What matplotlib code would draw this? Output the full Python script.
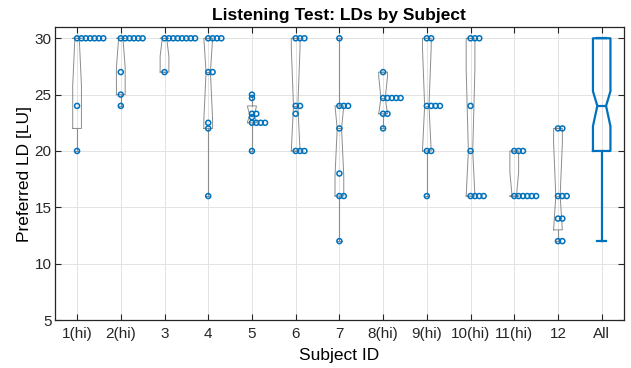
import matplotlib
matplotlib.use("Agg")
import matplotlib.pyplot as plt
from collections import Counter

plt.rcParams['font.family'] = ['Liberation Sans', 'DejaVu Sans']

# ---------------- data ----------------
subject_labels = ['1(hi)', '2(hi)', '3', '4', '5', '6', '7', '8(hi)', '9(hi)',
                  '10(hi)', '11(hi)', '12', 'All']

ratings_s1 = [30, 30, 30, 30, 30, 30, 30, 24, 20]
ratings_s2 = [30, 30, 30, 30, 30, 30, 27, 25, 24]
ratings_s3 = [30, 30, 30, 30, 30, 30, 30, 30, 27]
ratings_s4 = [30, 30, 30, 30, 27, 27, 22.5, 22, 16]
ratings_s5 = [25, 24.7, 23.3, 23.3, 23, 22.5, 22.5, 22.5, 22.5, 20]
ratings_s6 = [30, 30, 30, 24, 24, 23.3, 20, 20, 20]
ratings_s7 = [30, 24, 24, 24, 22, 18, 16, 16, 12]
ratings_s8 = [27, 24.7, 24.7, 24.7, 24.7, 24.7, 23.3, 23.3, 22]
ratings_s9 = [30, 30, 24, 24, 24, 24, 20, 20, 16]
ratings_s10 = [30, 30, 30, 24, 20, 16, 16, 16, 16]
ratings_s11 = [20, 20, 20, 16, 16, 16, 16, 16, 16]
ratings_s12 = [22, 22, 16, 16, 16, 14, 14, 12, 12]

# box statistics per subject
box_q1 = [22, 25, 27, 22, 22.5, 20, 16, 23.3, 20, 16, 16, 13]
box_med = [30, 30, 30, 27, 23.2, 24, 22, 24.7, 24, 20, 16, 16]
box_q3 = [30, 30, 30, 30, 24, 30, 24, 27, 30, 30, 20, 22]
box_whislo = [20, 24, 27, 16, 20, 20, 12, 22, 16, 16, 16, 12]
box_whishi = [30, 30, 30, 30, 25, 30, 30, 27, 30, 30, 20, 22]
box_cilo = [25.8, 27.4, 28.4, 22.8, 22.6, 20, 17.8, 23.3, 20, 16, 16, 13]
box_cihi = [30, 30, 30, 30, 23.9, 29.2, 24, 26.6, 29.2, 27.3, 18.1, 20.7]

# pooled ("All") box statistics
all_q1, all_med, all_q3 = 20, 24, 30
all_whislo, all_whishi = 12, 30
all_cilo, all_cihi = 22.2, 25.3

subject_ratings = [ratings_s1, ratings_s2, ratings_s3, ratings_s4, ratings_s5,
                   ratings_s6, ratings_s7, ratings_s8, ratings_s9, ratings_s10,
                   ratings_s11, ratings_s12]

# ---------------- figure ----------------
BLUE = '#0072BD'
GRAY = '#8c8c8c'

fig = plt.figure(figsize=(6.31, 3.68), dpi=100)
ax = fig.add_axes([0.0875, 0.1304, 0.9007, 0.7962])

ax.set_axisbelow(True)
ax.grid(True, color='#e3e3e3', linewidth=0.7)

# subject boxes
stats = []
for i in range(12):
    stats.append(dict(q1=box_q1[i], med=box_med[i], q3=box_q3[i],
                      whislo=box_whislo[i], whishi=box_whishi[i],
                      cilo=box_cilo[i], cihi=box_cihi[i], fliers=[]))
ax.bxp(stats, positions=list(range(1, 13)), widths=0.2, shownotches=True,
       showfliers=False, manage_ticks=False,
       boxprops=dict(color=GRAY, linewidth=0.7),
       medianprops=dict(color=GRAY, linewidth=0.7),
       whiskerprops=dict(color=GRAY, linewidth=0.8),
       capprops=dict(color=GRAY, linewidth=0.8))

# pooled box
ax.bxp([dict(q1=all_q1, med=all_med, q3=all_q3, whislo=all_whislo,
             whishi=all_whishi, cilo=all_cilo, cihi=all_cihi, fliers=[])],
       positions=[13], widths=0.4, shownotches=True, showfliers=False,
       manage_ticks=False,
       boxprops=dict(color=BLUE, linewidth=1.6),
       medianprops=dict(color=BLUE, linewidth=1.6),
       whiskerprops=dict(color=BLUE, linewidth=1.6),
       capprops=dict(color=BLUE, linewidth=1.6))

# individual ratings, duplicates placed side by side
for i, vals in enumerate(subject_ratings):
    seen = Counter()
    xs, ys = [], []
    for v in vals:
        xs.append(i + 1 + 0.1 * seen[v])
        ys.append(v)
        seen[v] += 1
    ax.scatter(xs, ys, s=13, facecolors='none', edgecolors=BLUE,
               linewidths=1.1, zorder=5)

ax.set_xlim(0.5, 13.5)
ax.set_ylim(5, 31)
ax.set_xticks(range(1, 14))
ax.set_xticklabels(subject_labels)
ax.set_yticks([5, 10, 15, 20, 25, 30])

ax.tick_params(direction='in', length=4, width=0.8, top=True, right=True,
               labelsize=11, colors='#262626')
ax.tick_params(axis='x', pad=5)
ax.tick_params(axis='y', pad=2.5)
for sp in ax.spines.values():
    sp.set_color('#262626')
    sp.set_linewidth(0.9)

ax.set_title('Listening Test: LDs by Subject', fontsize=12.5,
             fontweight='bold', pad=5)
ax.set_xlabel('Subject ID', fontsize=12.5, labelpad=5)
ax.set_ylabel('Preferred LD [LU]', fontsize=12.5, labelpad=2)

fig.savefig('out.png', dpi=100)
